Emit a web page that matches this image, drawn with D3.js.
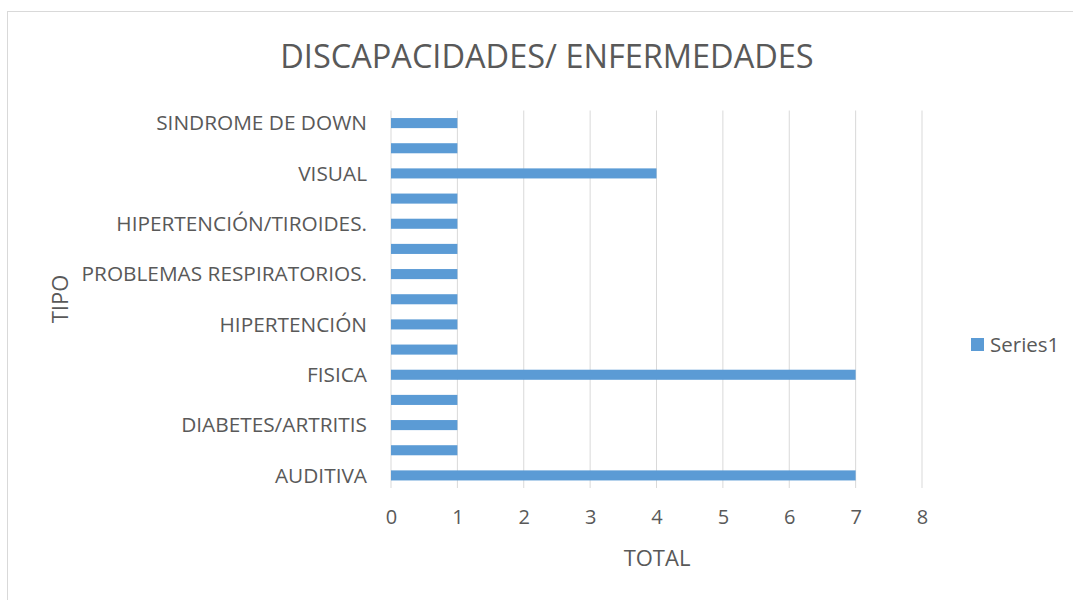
<!DOCTYPE html>
<html>
<head>
<meta charset="utf-8">
<script src="https://cdn.jsdelivr.net/npm/d3@7"></script>
<style>
  body { margin: 0; background: #fff; }
  text { font-family: "Open Sans", "Liberation Sans", sans-serif; fill: #595959; }
</style>
</head>
<body>
<div id="chart"></div>
<script>
// categories from bottom to top; empty labels are the ones Excel skipped
var categories = ["AUDITIVA", "", "DIABETES/ARTRITIS", "", "FISICA", "", "HIPERTENCIÓN", "",
                  "PROBLEMAS RESPIRATORIOS.", "", "HIPERTENCIÓN/TIROIDES.", "", "VISUAL ", "", "SINDROME DE DOWN"];
var values = [7, 1, 1, 1, 7, 1, 1, 1, 1, 1, 1, 1, 4, 1, 1];
var xTicks = [0, 1, 2, 3, 4, 5, 6, 7, 8];
var seriesName = "Series1";
var title = "DISCAPACIDADES/ ENFERMEDADES";

var W = 1073, H = 600;
var plot = {left: 391, right: 922, top: 110.5, bottom: 488};

var svg = d3.select("#chart")
  .append("svg")
    .attr("width", W)
    .attr("height", H);

// chart area border
svg.append("rect")
  .attr("x", 7.5).attr("y", 11.5)
  .attr("width", W + 10).attr("height", H + 10)
  .attr("fill", "#fff")
  .attr("stroke", "#d9d9d9");

var idx = categories.map(function(d, i) { return i; });

var x = d3.scaleLinear()
  .domain([0, 8])
  .range([plot.left, plot.right]);

var y = d3.scaleBand()
  .domain(idx)
  .range([plot.bottom, plot.top])
  .paddingInner(0.6)
  .paddingOuter(0.3);

// gridlines
svg.append("g")
  .selectAll("line")
  .data(xTicks.slice(1))
  .enter()
  .append("line")
    .attr("x1", function(d) { return x(d); })
    .attr("x2", function(d) { return x(d); })
    .attr("y1", plot.top)
    .attr("y2", plot.bottom)
    .attr("stroke", "#d9d9d9")
    .attr("stroke-width", 1);

// vertical axis line
svg.append("line")
  .attr("x1", x(0)).attr("x2", x(0))
  .attr("y1", plot.top).attr("y2", plot.bottom)
  .attr("stroke", "#d9d9d9");

// bars
svg.append("g")
  .selectAll("rect")
  .data(values)
  .enter()
  .append("rect")
    .attr("x", x(0))
    .attr("y", function(d, i) { return y(i); })
    .attr("width", function(d) { return x(d) - x(0); })
    .attr("height", y.bandwidth())
    .attr("fill", "#5b9bd5");

// x axis labels
var xAxis = svg.append("g")
  .attr("transform", "translate(0," + (plot.bottom + 14) + ")")
  .call(d3.axisBottom(x).tickValues(xTicks).tickSize(0).tickPadding(8));
xAxis.select(".domain").remove();
xAxis.selectAll("text")
  .attr("font-size", 20)
  .attr("font-family", null);

// y axis labels
var yAxis = svg.append("g")
  .attr("transform", "translate(" + (plot.left - 24) + ",0)")
  .call(d3.axisLeft(y).tickSize(0).tickPadding(0).tickFormat(function(i) { return categories[i]; }));
yAxis.select(".domain").remove();
yAxis.selectAll("text")
  .attr("font-size", 20.8)
  .attr("font-family", null)
  .attr("dy", "0.35em");

// title
svg.append("text")
  .attr("x", 547)
  .attr("y", 68)
  .attr("text-anchor", "middle")
  .attr("font-size", 32.5)
  .text(title);

// axis titles
svg.append("text")
  .attr("x", 657)
  .attr("y", 566)
  .attr("text-anchor", "middle")
  .attr("font-size", 22)
  .text("TOTAL");

svg.append("text")
  .attr("transform", "translate(68,299) rotate(-90)")
  .attr("text-anchor", "middle")
  .attr("font-size", 22)
  .text("TIPO");

// legend
var legend = svg.append("g").attr("transform", "translate(971,338)");
legend.append("rect")
  .attr("width", 13).attr("height", 13)
  .attr("fill", "#5b9bd5");
legend.append("text")
  .attr("x", 19)
  .attr("y", 14)
  .attr("font-size", 20.5)
  .text(seriesName);
</script>
</body>
</html>
